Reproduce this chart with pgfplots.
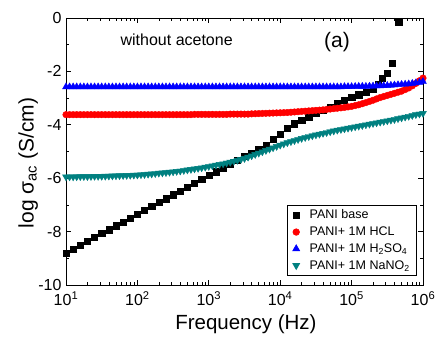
\documentclass[border=0pt]{standalone}
\usepackage{pgfplots}
\pgfplotsset{compat=1.18}
\usepackage{pgfplotstable}
\usepackage{fontspec}
\setmainfont{Liberation Sans}
\definecolor{teal2}{RGB}{0,128,128}

\pgfplotstableread{
lx y
1.0 -8.80
1.1 -8.65
1.2 -8.51
1.3 -8.36
1.4 -8.22
1.5 -8.07
1.6 -7.93
1.7 -7.78
1.8 -7.64
1.9 -7.49
2.0 -7.35
2.1 -7.20
2.2 -7.06
2.3 -6.91
2.4 -6.77
2.5 -6.62
2.6 -6.48
2.7 -6.33
2.8 -6.19
2.9 -6.04
3.0 -5.90
3.1 -5.76
3.2 -5.61
3.3 -5.47
3.4 -5.33
3.5 -5.19
3.6 -5.05
3.7 -4.90
3.8 -4.75
3.9 -4.55
4.0 -4.35
4.1 -4.12
4.2 -3.96
4.3 -3.82
4.4 -3.70
4.5 -3.58
4.6 -3.45
4.7 -3.33
4.8 -3.20
4.9 -3.08
5.0 -2.97
5.1 -2.87
5.2 -2.78
5.3 -2.66
5.37 -2.48
5.43 -2.25
5.50 -2.06
5.57 -1.69
5.66 -0.15
}\tblack

\pgfplotstableread{
lx y
1.00 -3.62
1.05 -3.62
1.10 -3.62
1.15 -3.62
1.20 -3.62
1.25 -3.62
1.30 -3.62
1.35 -3.62
1.40 -3.62
1.45 -3.62
1.50 -3.62
1.55 -3.62
1.60 -3.62
1.65 -3.62
1.70 -3.62
1.75 -3.62
1.80 -3.62
1.85 -3.62
1.90 -3.62
1.95 -3.62
2.00 -3.62
2.05 -3.62
2.10 -3.62
2.15 -3.62
2.20 -3.62
2.25 -3.62
2.30 -3.62
2.35 -3.62
2.40 -3.62
2.45 -3.62
2.50 -3.62
2.55 -3.62
2.60 -3.62
2.65 -3.62
2.70 -3.62
2.75 -3.62
2.80 -3.61
2.85 -3.61
2.90 -3.61
2.95 -3.61
3.00 -3.61
3.05 -3.61
3.10 -3.61
3.15 -3.61
3.20 -3.61
3.25 -3.61
3.30 -3.60
3.35 -3.60
3.40 -3.60
3.45 -3.60
3.50 -3.60
3.55 -3.60
3.60 -3.59
3.65 -3.585
3.70 -3.58
3.75 -3.575
3.80 -3.57
3.85 -3.565
3.90 -3.56
3.95 -3.555
4.00 -3.55
4.05 -3.545
4.10 -3.54
4.15 -3.53
4.20 -3.52
4.25 -3.51
4.30 -3.50
4.35 -3.49
4.40 -3.48
4.45 -3.47
4.50 -3.46
4.55 -3.45
4.60 -3.44
4.65 -3.425
4.70 -3.41
4.75 -3.395
4.80 -3.38
4.85 -3.365
4.90 -3.35
4.95 -3.33
5.00 -3.31
5.05 -3.28
5.10 -3.25
5.15 -3.21
5.20 -3.17
5.25 -3.125
5.30 -3.08
5.35 -3.03
5.40 -2.98
5.45 -2.94
5.50 -2.90
5.55 -2.86
5.60 -2.82
5.65 -2.78
5.70 -2.74
5.75 -2.68
5.80 -2.62
5.85 -2.54
5.90 -2.45
5.95 -2.35
6.00 -2.25
}\tred

\pgfplotstableread{
lx y
1.00 -2.58
1.05 -2.58
1.10 -2.58
1.15 -2.58
1.20 -2.58
1.25 -2.58
1.30 -2.58
1.35 -2.58
1.40 -2.58
1.45 -2.58
1.50 -2.58
1.55 -2.58
1.60 -2.58
1.65 -2.58
1.70 -2.58
1.75 -2.58
1.80 -2.58
1.85 -2.58
1.90 -2.58
1.95 -2.58
2.00 -2.58
2.05 -2.58
2.10 -2.58
2.15 -2.58
2.20 -2.58
2.25 -2.58
2.30 -2.58
2.35 -2.58
2.40 -2.58
2.45 -2.58
2.50 -2.58
2.55 -2.58
2.60 -2.58
2.65 -2.58
2.70 -2.58
2.75 -2.58
2.80 -2.58
2.85 -2.58
2.90 -2.58
2.95 -2.58
3.00 -2.58
3.05 -2.58
3.10 -2.58
3.15 -2.58
3.20 -2.58
3.25 -2.58
3.30 -2.58
3.35 -2.58
3.40 -2.58
3.45 -2.58
3.50 -2.58
3.55 -2.58
3.60 -2.58
3.65 -2.58
3.70 -2.58
3.75 -2.58
3.80 -2.58
3.85 -2.58
3.90 -2.58
3.95 -2.58
4.00 -2.58
4.05 -2.58
4.10 -2.58
4.15 -2.58
4.20 -2.58
4.25 -2.58
4.30 -2.58
4.35 -2.58
4.40 -2.58
4.45 -2.58
4.50 -2.58
4.55 -2.58
4.60 -2.58
4.65 -2.58
4.70 -2.58
4.75 -2.58
4.80 -2.58
4.85 -2.58
4.90 -2.57
4.95 -2.57
5.00 -2.57
5.05 -2.565
5.10 -2.56
5.15 -2.56
5.20 -2.56
5.25 -2.555
5.30 -2.55
5.35 -2.545
5.40 -2.54
5.45 -2.535
5.50 -2.53
5.55 -2.52
5.60 -2.51
5.65 -2.50
5.70 -2.49
5.75 -2.48
5.80 -2.47
5.85 -2.45
5.90 -2.43
5.95 -2.41
6.00 -2.38
}\tblue

\pgfplotstableread{
lx y
1.00 -5.95
1.05 -5.95
1.10 -5.95
1.15 -5.945
1.20 -5.94
1.25 -5.94
1.30 -5.94
1.35 -5.935
1.40 -5.93
1.45 -5.93
1.50 -5.93
1.55 -5.925
1.60 -5.92
1.65 -5.915
1.70 -5.91
1.75 -5.905
1.80 -5.90
1.85 -5.895
1.90 -5.89
1.95 -5.885
2.00 -5.88
2.05 -5.87
2.10 -5.86
2.15 -5.85
2.20 -5.84
2.25 -5.825
2.30 -5.81
2.35 -5.80
2.40 -5.79
2.45 -5.775
2.50 -5.76
2.55 -5.745
2.60 -5.73
2.65 -5.71
2.70 -5.69
2.75 -5.67
2.80 -5.65
2.85 -5.63
2.90 -5.61
2.95 -5.585
3.00 -5.56
3.05 -5.535
3.10 -5.51
3.15 -5.485
3.20 -5.46
3.25 -5.43
3.30 -5.40
3.35 -5.365
3.40 -5.33
3.45 -5.295
3.50 -5.26
3.55 -5.21
3.60 -5.16
3.65 -5.11
3.70 -5.06
3.75 -5.01
3.80 -4.96
3.85 -4.91
3.90 -4.86
3.95 -4.81
4.00 -4.76
4.05 -4.715
4.10 -4.67
4.15 -4.63
4.20 -4.59
4.25 -4.55
4.30 -4.51
4.35 -4.475
4.40 -4.44
4.45 -4.41
4.50 -4.38
4.55 -4.35
4.60 -4.32
4.65 -4.29
4.70 -4.26
4.75 -4.23
4.80 -4.20
4.85 -4.175
4.90 -4.15
4.95 -4.125
5.00 -4.10
5.05 -4.075
5.10 -4.05
5.15 -4.025
5.20 -4.00
5.25 -3.975
5.30 -3.95
5.35 -3.925
5.40 -3.90
5.45 -3.875
5.50 -3.85
5.55 -3.825
5.60 -3.80
5.65 -3.77
5.70 -3.74
5.75 -3.71
5.80 -3.68
5.85 -3.65
5.90 -3.62
5.95 -3.595
6.00 -3.57
}\tteal

\begin{document}
\begin{tikzpicture}
\useasboundingbox (-66pt,-52pt) rectangle (369pt,285pt);
\begin{axis}[
  at={(0,0)}, anchor=south west,
  scale only axis,
  width=357pt, height=267pt,
  xmin=1, xmax=6, ymin=-10, ymax=0,
  axis line style={line width=0.8pt},
  xtick={1,2,3,4,5,6},
  xticklabels={10\textsuperscript{1},10\textsuperscript{2},10\textsuperscript{3},10\textsuperscript{4},10\textsuperscript{5},10\textsuperscript{6}},
  minor xtick={1.301,1.477,1.602,1.699,1.778,1.845,1.903,1.954,
               2.301,2.477,2.602,2.699,2.778,2.845,2.903,2.954,
               3.301,3.477,3.602,3.699,3.778,3.845,3.903,3.954,
               4.301,4.477,4.602,4.699,4.778,4.845,4.903,4.954,
               5.301,5.477,5.602,5.699,5.778,5.845,5.903,5.954},
  ytick={-10,-8,-6,-4,-2,0},
  yticklabels={-10,-8,-6,-4,-2,0},
  minor ytick={-9,-7,-5,-3,-1},
  tick pos=both, tick align=inside,
  major tick length=5pt, minor tick length=3pt,
  tick style={black, line width=0.7pt},
  ticklabel style={font=\fontsize{16}{18}\selectfont},
  xticklabel style={yshift=-3pt},
  yticklabel style={xshift=-1pt},
  xlabel={Frequency (Hz)},
  ylabel={log σ\textsubscript{ac} (S/cm)},
  xlabel style={font=\fontsize{20.5}{24}\selectfont, at={(axis description cs:0.504,-0.146)}, anchor=center},
  ylabel style={font=\fontsize{21}{24}\selectfont, at={(axis description cs:-0.106,0.457)}, anchor=center},
  legend style={at={(0.983,0.034)}, anchor=south east, draw=black, line width=0.6pt,
    font=\fontsize{12.5}{14}\selectfont, row sep=2.5pt, inner xsep=5pt, inner ysep=3pt,
    /tikz/every odd column/.append style={column sep=8pt}},
  legend cell align=left,
]
\addplot[only marks, mark=square*, mark size=3.1pt, color=black] table[x=lx,y=y]{\tblack};
\addlegendentry{PANI base}
\addplot[only marks, mark=*, mark size=3.3pt, color=red] table[x=lx,y=y]{\tred};
\addlegendentry{PANI+ 1M HCL}
\addplot[only marks, mark=triangle*, mark size=4pt, color=blue] table[x=lx,y=y]{\tblue};
\addlegendentry{PANI+ 1M H\textsubscript{2}SO\textsubscript{4}}
\addplot[only marks, mark=triangle*, mark options={rotate=180}, mark size=4pt, color=teal2] table[x=lx,y=y]{\tteal};
\addlegendentry{PANI+ 1M NaNO\textsubscript{2}}
\node[font=\fontsize{16}{18}\selectfont] at (rel axis cs:0.31,0.92) {without acetone};
\node[font=\fontsize{21}{23}\selectfont] at (rel axis cs:0.759,0.91) {(a)};
\end{axis}
\end{tikzpicture}
\end{document}
